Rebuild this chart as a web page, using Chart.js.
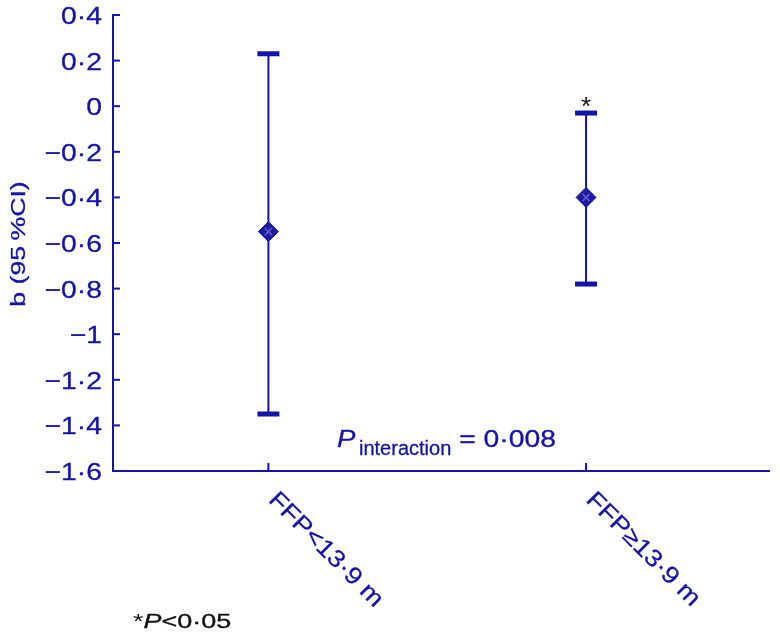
<!DOCTYPE html>
<html>
<head>
<meta charset="utf-8">
<script src="https://cdn.jsdelivr.net/npm/chart.js@4.4.0/dist/chart.umd.min.js"></script>
<style>
  html,body{margin:0;padding:0;background:#fff}
  #chart{display:block}
</style>
</head>
<body>
<canvas id="chart" width="780" height="642"></canvas>
<script>
// data
const categories = ["FFP<13·9 m", "FFP≥13·9 m"];
const estimates  = [-0.55, -0.40];
const lowerCI    = [-1.35, -0.78];
const upperCI    = [0.23, -0.03];
const starred    = [false, true];
const yMin = -1.6, yMax = 0.4, yStep = 0.2;
const pInteraction = "0·008";

const BLUE = "#1414a8";
const FONT = "'Liberation Sans', Arial, Helvetica, sans-serif";

// the figure's text is stretched sideways, so draw it by hand
function txt(ctx, s, x, y, o){
  const weight = o.weight ?? 0.3;
  ctx.save();
  ctx.translate(x, y);
  if (o.rot) ctx.rotate(o.rot);
  ctx.scale(o.sx || 1, 1);
  ctx.font = o.font;
  ctx.fillStyle = o.color || BLUE;
  ctx.textAlign = o.align || "left";
  ctx.textBaseline = o.base || "alphabetic";
  ctx.fillText(s, 0, 0);
  if (weight > 0) {
    ctx.strokeStyle = o.color || BLUE;
    ctx.lineWidth = weight;
    ctx.strokeText(s, 0, 0);
  }
  const w = ctx.measureText(s).width * (o.sx || 1);
  ctx.restore();
  return w;
}

function fmt(v){
  const r = Math.round(v*10)/10;
  const s = Math.abs(r).toString().replace(".", "·");
  return r < 0 ? "\u2212" + s : s;
}

const errorBars = {
  id: "errorBars",
  beforeDatasetsDraw(chart){
    const {ctx, scales:{x, y}} = chart;
    ctx.save();
    ctx.strokeStyle = BLUE;
    ctx.fillStyle = BLUE;
    ctx.lineWidth = 2;
    estimates.forEach((_, i)=>{
      const px = x.getPixelForValue(i+1);
      const top = y.getPixelForValue(upperCI[i]);
      const bot = y.getPixelForValue(lowerCI[i]);
      ctx.beginPath();
      ctx.moveTo(px, top);
      ctx.lineTo(px, bot);
      ctx.stroke();
      ctx.fillRect(px-11, top-2.5, 22, 5);
      ctx.fillRect(px-11, bot-2.5, 22, 5);
    });
    ctx.restore();
  },
  afterDraw(chart){
    const {ctx, chartArea:a, scales:{x, y}} = chart;
    ctx.save();
    ctx.strokeStyle = BLUE;
    ctx.lineWidth = 2;
    // y ticks point inwards
    y.ticks.forEach(t=>{
      const py = y.getPixelForValue(t.value);
      ctx.beginPath();
      ctx.moveTo(a.left, py);
      ctx.lineTo(a.left+7, py);
      ctx.stroke();
      txt(ctx, fmt(t.value), a.left-11, py+9, {font:`24px ${FONT}`, sx:1.18, align:"right"});
    });
    // x ticks and rotated labels
    categories.forEach((c, i)=>{
      const px = x.getPixelForValue(i+1);
      ctx.strokeStyle = BLUE;
      ctx.lineWidth = 2;
      ctx.beginPath();
      ctx.moveTo(px, a.bottom);
      ctx.lineTo(px, a.bottom-8);
      ctx.stroke();
      txt(ctx, c, px-1, a.bottom+30, {font:`24px ${FONT}`, sx:1.13, rot:Math.PI/4});
      if (starred[i]) {
        txt(ctx, "*", px, y.getPixelForValue(upperCI[i])+2, {font:`26px ${FONT}`, color:"#111", align:"center", weight:0});
      }
    });
    ctx.restore();

    // axis title
    txt(ctx, "b (95\u2009%CI)", 25, 244, {font:`21px ${FONT}`, sx:1.27, rot:-Math.PI/2, align:"center"});

    // P interaction
    txt(ctx, "P", 337, 447, {font:`italic 24px ${FONT}`, sx:1.15});
    const sw = txt(ctx, "interaction", 359, 455, {font:`20px ${FONT}`});
    txt(ctx, " = " + pInteraction, 359 + sw, 447, {font:`24px ${FONT}`, sx:1.18});

    // footnote
    let fx = 133;
    fx += txt(ctx, "*", fx, 628, {font:`20px ${FONT}`, sx:1.35, color:"#111", weight:0});
    fx += txt(ctx, "P", fx, 628, {font:`italic 20px ${FONT}`, sx:1.35, color:"#111"});
    txt(ctx, "<0·05", fx, 628, {font:`20px ${FONT}`, sx:1.35, color:"#111"});
  }
};

new Chart(document.getElementById("chart"), {
  type: "scatter",
  data: {
    datasets: [
      {
        data: estimates.map((v,i)=>({x:i+1, y:v})),
        pointStyle: "crossRot",
        pointRadius: 5,
        borderColor: "#6a5cd6",
        borderWidth: 1.5,
        backgroundColor: "#6a5cd6",
        order: 0
      },
      {
        data: estimates.map((v,i)=>({x:i+1, y:v})),
        pointStyle: "rectRot",
        pointRadius: 10,
        backgroundColor: "#1c1c9e",
        borderColor: "#1c1c9e",
        borderWidth: 1,
        order: 1
      }
    ]
  },
  options: {
    responsive: false,
    animation: false,
    events: [],
    layout: { padding: { top: 15, right: 0, bottom: 0, left: 0 } },
    plugins: { legend: { display: false }, tooltip: { enabled: false } },
    scales: {
      x: {
        type: "linear",
        min: 0.5108,
        max: 2.5759,
        grid: { display: false, drawTicks: false },
        ticks: { display: false },
        border: { color: BLUE, width: 2 },
        afterFit(s){ s.height = 171; }
      },
      y: {
        min: yMin,
        max: yMax,
        grid: { display: false, drawTicks: false },
        ticks: { display: false, stepSize: yStep },
        border: { color: BLUE, width: 2 },
        afterFit(s){ s.width = 113; }
      }
    }
  },
  plugins: [errorBars]
});
</script>
</body>
</html>
